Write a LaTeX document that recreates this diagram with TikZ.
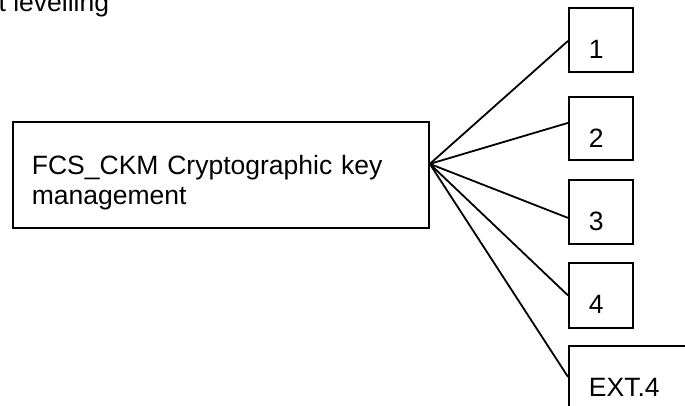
\documentclass[tikz,border=0pt]{standalone}
\usepackage{fontspec}
\setmainfont{Liberation Sans}
\begin{document}
\begin{tikzpicture}[x=1pt,y=-1pt,line width=1.8pt,
  every node/.style={font=\fontsize{26.5}{30}\selectfont},
  box/.style={draw,line width=1.8pt,inner ysep=0pt,anchor=north west,align=left},
  numbox/.style={box,minimum width=64pt,minimum height=64pt,text width=24pt,inner xsep=20pt,text depth=0pt,text height=38pt}]
\useasboundingbox (0,0) rectangle (685,406);
\clip (0,0) rectangle (685,406);
\node[anchor=base east,inner sep=0pt] (title) at (110,12) {t levelling};
\node[box,minimum width=416pt,minimum height=106pt,inner xsep=19pt,text width=378pt] (main) at (12,121)
  {\rule{0pt}{36pt}FCS\_CKM Cryptographic key\\management\rule[-6pt]{0pt}{6pt}};
\coordinate (hub) at ([yshift=11pt]main.east);
\node[numbox] (b1) at (568,7) {1};
\node[numbox,minimum height=63pt,text height=39pt] (b2) at (568,96) {2};
\node[numbox] (b3) at (568,179) {3};
\node[numbox,minimum height=65pt,text height=37pt] (b4) at (568,262) {4};
\node[box,minimum width=130pt,minimum height=80pt,inner xsep=20pt,text width=90pt,text depth=0pt,text height=22pt] (ext) at (568,345) {EXT.4};
\draw (hub) -- ([yshift=-1pt]b1.west);
\draw (hub) -- ([yshift=5.5pt]b2.west);
\draw (hub) -- ([yshift=-6pt]b3.west);
\draw (hub) -- (b4.west);
\draw (hub) -- ([yshift=9pt]ext.west);
\end{tikzpicture}
\end{document}
